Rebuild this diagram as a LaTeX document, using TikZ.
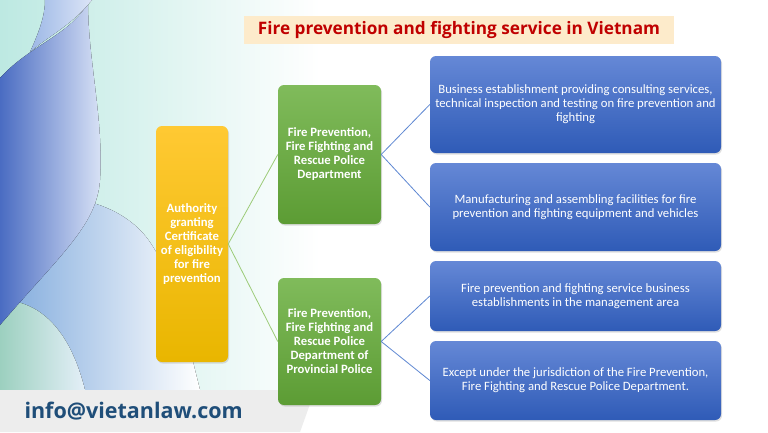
\documentclass[tikz,border=0pt]{standalone}
\usepackage{fontspec}
\setmainfont{Carlito}
\newfontfamily\titlefont{Open Sans}
\usetikzlibrary{shadows}
\definecolor{ytop}{HTML}{FFC933}
\definecolor{ybot}{HTML}{E9B600}
\definecolor{gtop}{HTML}{80BB5B}
\definecolor{gbot}{HTML}{5C9C34}
\definecolor{btop}{HTML}{6588D6}
\definecolor{bbot}{HTML}{2F5BB7}
\definecolor{gline}{HTML}{9CCB78}
\definecolor{bline}{HTML}{5E87D2}
\definecolor{titlered}{HTML}{C00000}
\definecolor{titlebg}{HTML}{FDEBCB}
\definecolor{mailblue}{HTML}{1F4E79}
\definecolor{bandgrey}{HTML}{EDEDED}
\definecolor{tealbg}{HTML}{BDE9E2}
\definecolor{wavedark}{HTML}{4A6CC2}
\definecolor{wavelight}{HTML}{DCE5F7}
\definecolor{wavemid}{HTML}{7EA9DC}
\definecolor{wavegreen}{HTML}{9CD0BF}
\definecolor{wavefade}{HTML}{E4EFF8}
\definecolor{bandtop}{HTML}{9DB8E6}
\tikzset{
  boxbase/.style={rectangle, rounded corners=6pt, inner sep=0pt, align=center,
    text=white, drop shadow={opacity=0.25, shadow xshift=1pt, shadow yshift=-1.5pt}},
  boxyellow/.style={boxbase, top color=ytop, bottom color=ybot,
    font=\bfseries\fontsize{12.7}{14}\selectfont},
  boxgreen/.style={boxbase, top color=gtop, bottom color=gbot,
    font=\bfseries\fontsize{12.7}{14}\selectfont},
  boxblue/.style={boxbase, top color=btop, bottom color=bbot,
    font=\fontsize{12.7}{14}\selectfont},
  linkgreen/.style={draw=gline, line width=0.8pt},
  linkblue/.style={draw=bline, line width=0.8pt},
}
\begin{document}
\begin{tikzpicture}[x=1pt,y=-1pt]
\useasboundingbox (0,0) rectangle (768,432);
\fill[white] (0,0) rectangle (768,432);
% background waves
\fill[left color=tealbg, right color=white] (0,0) rectangle (320,390);
\fill[left color=wavemid, right color=white]
  (0,200) .. controls (60,190) and (110,200) .. (140,230)
  .. controls (170,260) and (185,330) .. (200,390) -- (0,390) -- cycle;
\fill[left color=wavegreen, right color=wavefade]
  (0,300) .. controls (40,300) and (70,330) .. (85,390) -- (0,390) -- cycle;
\fill[left color=wavedark, right color=wavelight]
  (0,78) .. controls (30,45) and (70,35) .. (88,3)
  .. controls (88,60) and (104,120) .. (100,180)
  .. controls (97,225) and (60,255) .. (0,325) -- cycle;
\fill[left color=bandtop, right color=wavelight]
  (45,0) -- (92,0) .. controls (72,25) and (50,35) .. (30,52)
  .. controls (40,30) and (45,15) .. (45,0) -- cycle;
% grey band
\fill[bandgrey] (0,390) -- (315,390) -- (300,432) -- (0,432) -- cycle;
\node[anchor=west, text=mailblue, font=\titlefont\bfseries\fontsize{21.5}{24}\selectfont]
  (mail) at (21,411) {info@vietanlaw.com};
% title
\node[fill=titlebg, minimum width=430pt, minimum height=28pt, inner sep=0pt,
  text=titlered, font=\titlefont\bfseries\fontsize{17.2}{19}\selectfont]
  (title) at (459,30) {Fire prevention and fighting service in Vietnam};
% boxes
\node[boxyellow, minimum width=72pt, minimum height=236pt] (auth) at (192,244)
  {Authority\\granting\\Certificate\\of eligibility\\for fire\\prevention};
\node[boxgreen, minimum width=103pt, minimum height=139pt] (dept) at (329.5,154.5)
  {Fire Prevention,\\Fire Fighting and\\Rescue Police\\Department};
\node[boxgreen, minimum width=103pt, minimum height=127pt] (prov) at (329.5,341.5)
  {Fire Prevention,\\Fire Fighting and\\Rescue Police\\Department of\\Provincial Police};
\node[boxblue, minimum width=291pt, minimum height=97pt] (b1) at (575.5,104.5)
  {Business establishment providing consulting services,\\technical inspection and testing on fire prevention and\\fighting};
\node[boxblue, minimum width=291pt, minimum height=88pt] (b2) at (575.5,207)
  {Manufacturing and assembling facilities for fire\\prevention and fighting equipment and vehicles};
\node[boxblue, minimum width=291pt, minimum height=70pt] (b3) at (575.5,296)
  {Fire prevention and fighting service business\\establishments in the management area};
\node[boxblue, minimum width=291pt, minimum height=79pt] (b4) at (575.5,380.5)
  {Except under the jurisdiction of the Fire Prevention,\\Fire Fighting and Rescue Police Department.};
% connectors
\draw[linkgreen] (auth.east) -- (dept.west);
\draw[linkgreen] (auth.east) -- (prov.west);
\draw[linkblue] (dept.east) -- (b1.west);
\draw[linkblue] (dept.east) -- (b2.west);
\draw[linkblue] (prov.east) -- (b3.west);
\draw[linkblue] (prov.east) -- (b4.west);
\end{tikzpicture}
\end{document}
